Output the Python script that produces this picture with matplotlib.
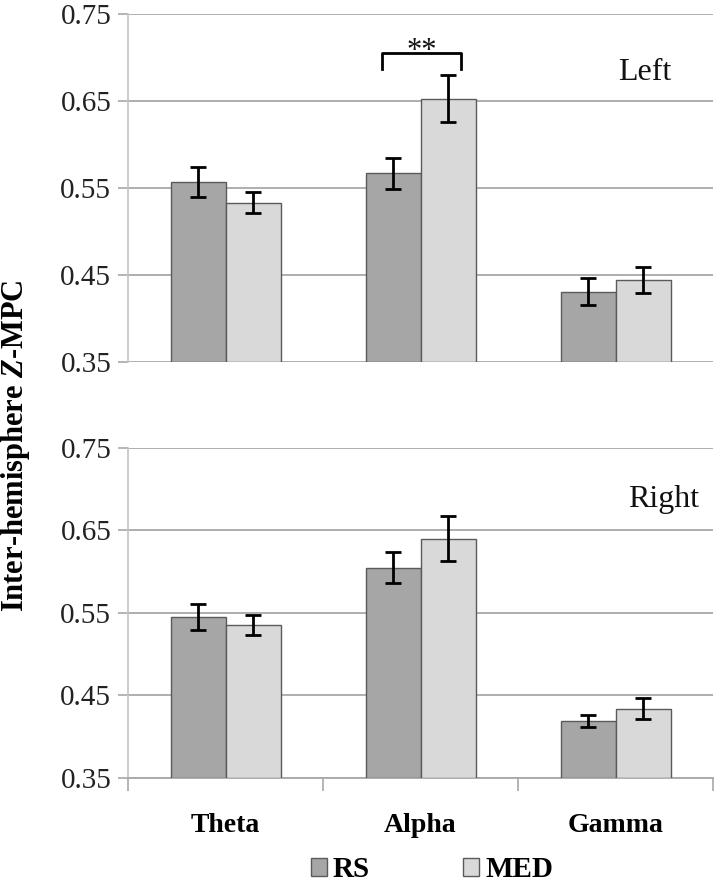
import matplotlib.pyplot as plt
import numpy as np
from matplotlib.patches import Patch

plt.switch_backend('Agg')
plt.rcParams['font.family'] = ['Liberation Serif', 'DejaVu Serif']
plt.rcParams['mathtext.fontset'] = 'custom'
plt.rcParams['mathtext.it'] = 'Liberation Serif:bold:italic'

bands = ['Theta', 'Alpha', 'Gamma']
groups = ['RS', 'MED']

# Left hemisphere
left_rs = [0.557, 0.567, 0.431]
left_rs_err = [0.017, 0.018, 0.015]
left_med = [0.533, 0.653, 0.444]
left_med_err = [0.012, 0.027, 0.015]

# Right hemisphere
right_rs = [0.545, 0.605, 0.419]
right_rs_err = [0.016, 0.019, 0.007]
right_med = [0.535, 0.640, 0.434]
right_med_err = [0.012, 0.027, 0.013]

yticks = [0.35, 0.45, 0.55, 0.65, 0.75]
ytick_labels = ['0.35', '0.45', '0.55', '0.65', '0.75']

rs_color = '#a6a6a6'
med_color = '#d9d9d9'
edge_color = '#5a5a5a'
grid_color = '#a8a8a8'

fig = plt.figure(figsize=(7.2, 8.85), dpi=100)
ax_top = fig.add_axes([0.1778, 0.591, 0.8125, 0.393])
ax_bot = fig.add_axes([0.1778, 0.1209, 0.8125, 0.3729])

x = np.arange(len(bands))
w = 0.282


def draw_panel(ax, rs, rs_err, med, med_err, title, tx, ty):
    ax.bar(x - w / 2, np.array(rs) - 0.35, w, bottom=0.35, color=rs_color,
           edgecolor=edge_color, linewidth=1.0, zorder=3)
    ax.bar(x + w / 2, np.array(med) - 0.35, w, bottom=0.35, color=med_color,
           edgecolor=edge_color, linewidth=1.0, zorder=3)
    ax.errorbar(x - w / 2, rs, yerr=rs_err, fmt='none', ecolor='black',
                elinewidth=2, capsize=6, capthick=2, zorder=4)
    ax.errorbar(x + w / 2, med, yerr=med_err, fmt='none', ecolor='black',
                elinewidth=2, capsize=6, capthick=2, zorder=4)
    ax.set_xlim(-0.5, 2.5)
    ax.set_ylim(0.35, 0.75)
    ax.set_yticks(yticks)
    ax.set_yticklabels(ytick_labels, fontsize=21, color='#222222')
    ax.tick_params(axis='y', length=7, color=grid_color, width=1.2, pad=5)
    ax.grid(axis='y', color=grid_color, linewidth=1.3, zorder=0)
    for s in ['top', 'right', 'bottom']:
        ax.spines[s].set_visible(False)
    ax.spines['left'].set_color('#c4c4c4')
    ax.spines['left'].set_linewidth(1.2)
    ax.text(tx, ty, title, ha='center', va='center', fontsize=23,
            color='#111111')


draw_panel(ax_top, left_rs, left_rs_err, left_med, left_med_err,
           'Left', 2.15, 0.683)
draw_panel(ax_bot, right_rs, right_rs_err, right_med, right_med_err,
           'Right', 2.245, 0.688)

ax_top.set_xticks([])
ax_top.spines['left'].set_bounds(0.35, 0.75)

# bottom panel category labels and separator ticks
ax_bot.set_xticks(x)
ax_bot.set_xticklabels(bands, fontsize=20, fontweight='bold')
ax_bot.tick_params(axis='x', length=0, pad=25)
ax_bot.set_xticks([-0.5, 0.5, 1.5, 2.5], minor=True)
ax_bot.tick_params(axis='x', which='minor', length=9, color=grid_color, width=1.2)
ax_bot.spines['bottom'].set_visible(True)
ax_bot.spines['bottom'].set_color(grid_color)
ax_bot.spines['bottom'].set_linewidth(1.3)

# significance bracket over Alpha (left hemisphere)
bx0, bx1 = 1 - 0.2, 1 + 0.21
ax_top.plot([bx0, bx0, bx1, bx1], [0.687, 0.7055, 0.7055, 0.687],
            color='black', linewidth=2, solid_joinstyle='round', zorder=5)
ax_top.text(1.005, 0.707, '**', ha='center', va='center', fontsize=22,
            color='#111111')

fig.text(0.021, 0.496, r'Inter-hemisphere $\mathit{Z}$-MPC', rotation=90,
         ha='center', va='center', fontsize=22, fontweight='bold')

handles = [Patch(facecolor=rs_color, edgecolor=edge_color, label='RS'),
           Patch(facecolor=med_color, edgecolor=edge_color, label='MED')]
leg = fig.legend(handles=handles, loc='center', bbox_to_anchor=(0.6, 0.017),
                 ncol=2, frameon=False, handlelength=0.55, handleheight=0.55,
                 handletextpad=0.2, columnspacing=3.2, borderpad=0.1,
                 prop={'size': 21, 'weight': 'bold'})

fig.savefig('out.png', dpi=100)
